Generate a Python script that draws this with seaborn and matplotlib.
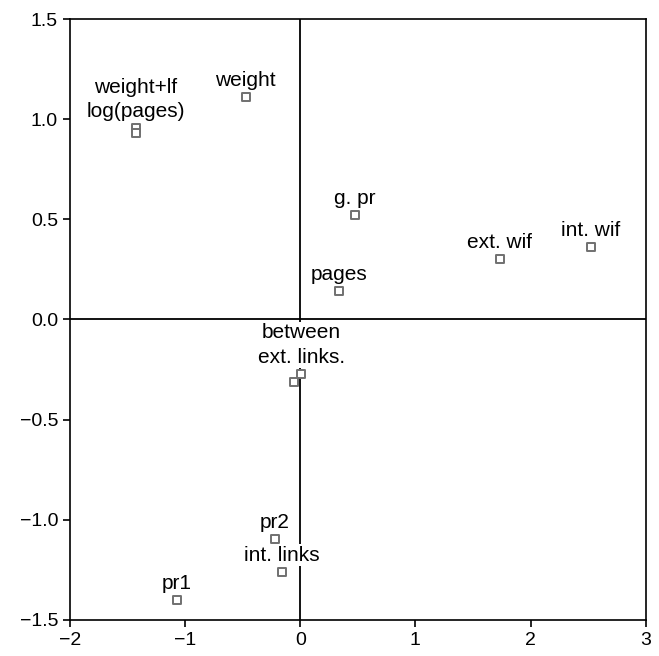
import numpy as np
import pandas as pd
import seaborn as sns
import matplotlib
matplotlib.use("Agg")
import matplotlib.pyplot as plt

# coordinates (first two factor scores)
names = ["weight+lf", "log(pages)", "weight", "g. pr", "pages", "ext. wif",
         "int. wif", "between", "ext. links.", "pr2", "int. links", "pr1"]
dim1 = [-1.43, -1.43, -0.475, 0.475, 0.34, 1.73, 2.52, 0.01, -0.05, -0.22, -0.16, -1.07]
dim2 = [0.955, 0.93, 1.11, 0.52, 0.14, 0.30, 0.36, -0.27, -0.31, -1.095, -1.26, -1.40]
# text shown above each marker (stacked points share one label)
labels = ["weight+lf\nlog(pages)", "", "weight", "g. pr", "pages", "ext. wif",
          "int. wif", "between\next. links.", "", "pr2", "int. links", "pr1"]

df = pd.DataFrame({"name": names, "d1": dim1, "d2": dim2, "label": labels})

sns.set_theme(style="ticks")
plt.rcParams["font.family"] = ["Liberation Sans", "DejaVu Sans"]
plt.rcParams["text.color"] = "black"

fig = plt.figure(figsize=(6.59, 6.56), dpi=100)
ax = fig.add_axes([0.106, 0.055, 0.874, 0.916])

ax.axhline(0, color="black", lw=1.3, zorder=1)
ax.axvline(0, color="black", lw=1.3, zorder=1)

sns.scatterplot(data=df, x="d1", y="d2", ax=ax, marker="s", s=28,
                facecolor="white", edgecolor="#707070", linewidth=1.4, zorder=4)

for _, r in df.iterrows():
    if r["label"]:
        ax.annotate(r["label"], (r["d1"], r["d2"]), xytext=(0, 5),
                    textcoords="offset points", ha="center", va="bottom",
                    fontsize=15, linespacing=1.35, zorder=3, color="black",
                    bbox=dict(facecolor="white", edgecolor="none", pad=1.0))

ax.set_xlim(-2, 3)
ax.set_ylim(-1.5, 1.5)
ax.set_xticks([-2, -1, 0, 1, 2, 3])
ax.set_yticks([-1.5, -1.0, -0.5, 0.0, 0.5, 1.0, 1.5])
ax.set_yticklabels(["\u22121.5", "\u22121.0", "\u22120.5", "0.0", "0.5", "1.0", "1.5"])
ax.set_xlabel("")
ax.set_ylabel("")
for s in ax.spines.values():
    s.set_color("black")
    s.set_linewidth(1.2)
ax.tick_params(axis="both", direction="out", length=5, width=1.2,
               labelsize=14, colors="black", top=False, right=False)

fig.savefig("out.png", dpi=100)
